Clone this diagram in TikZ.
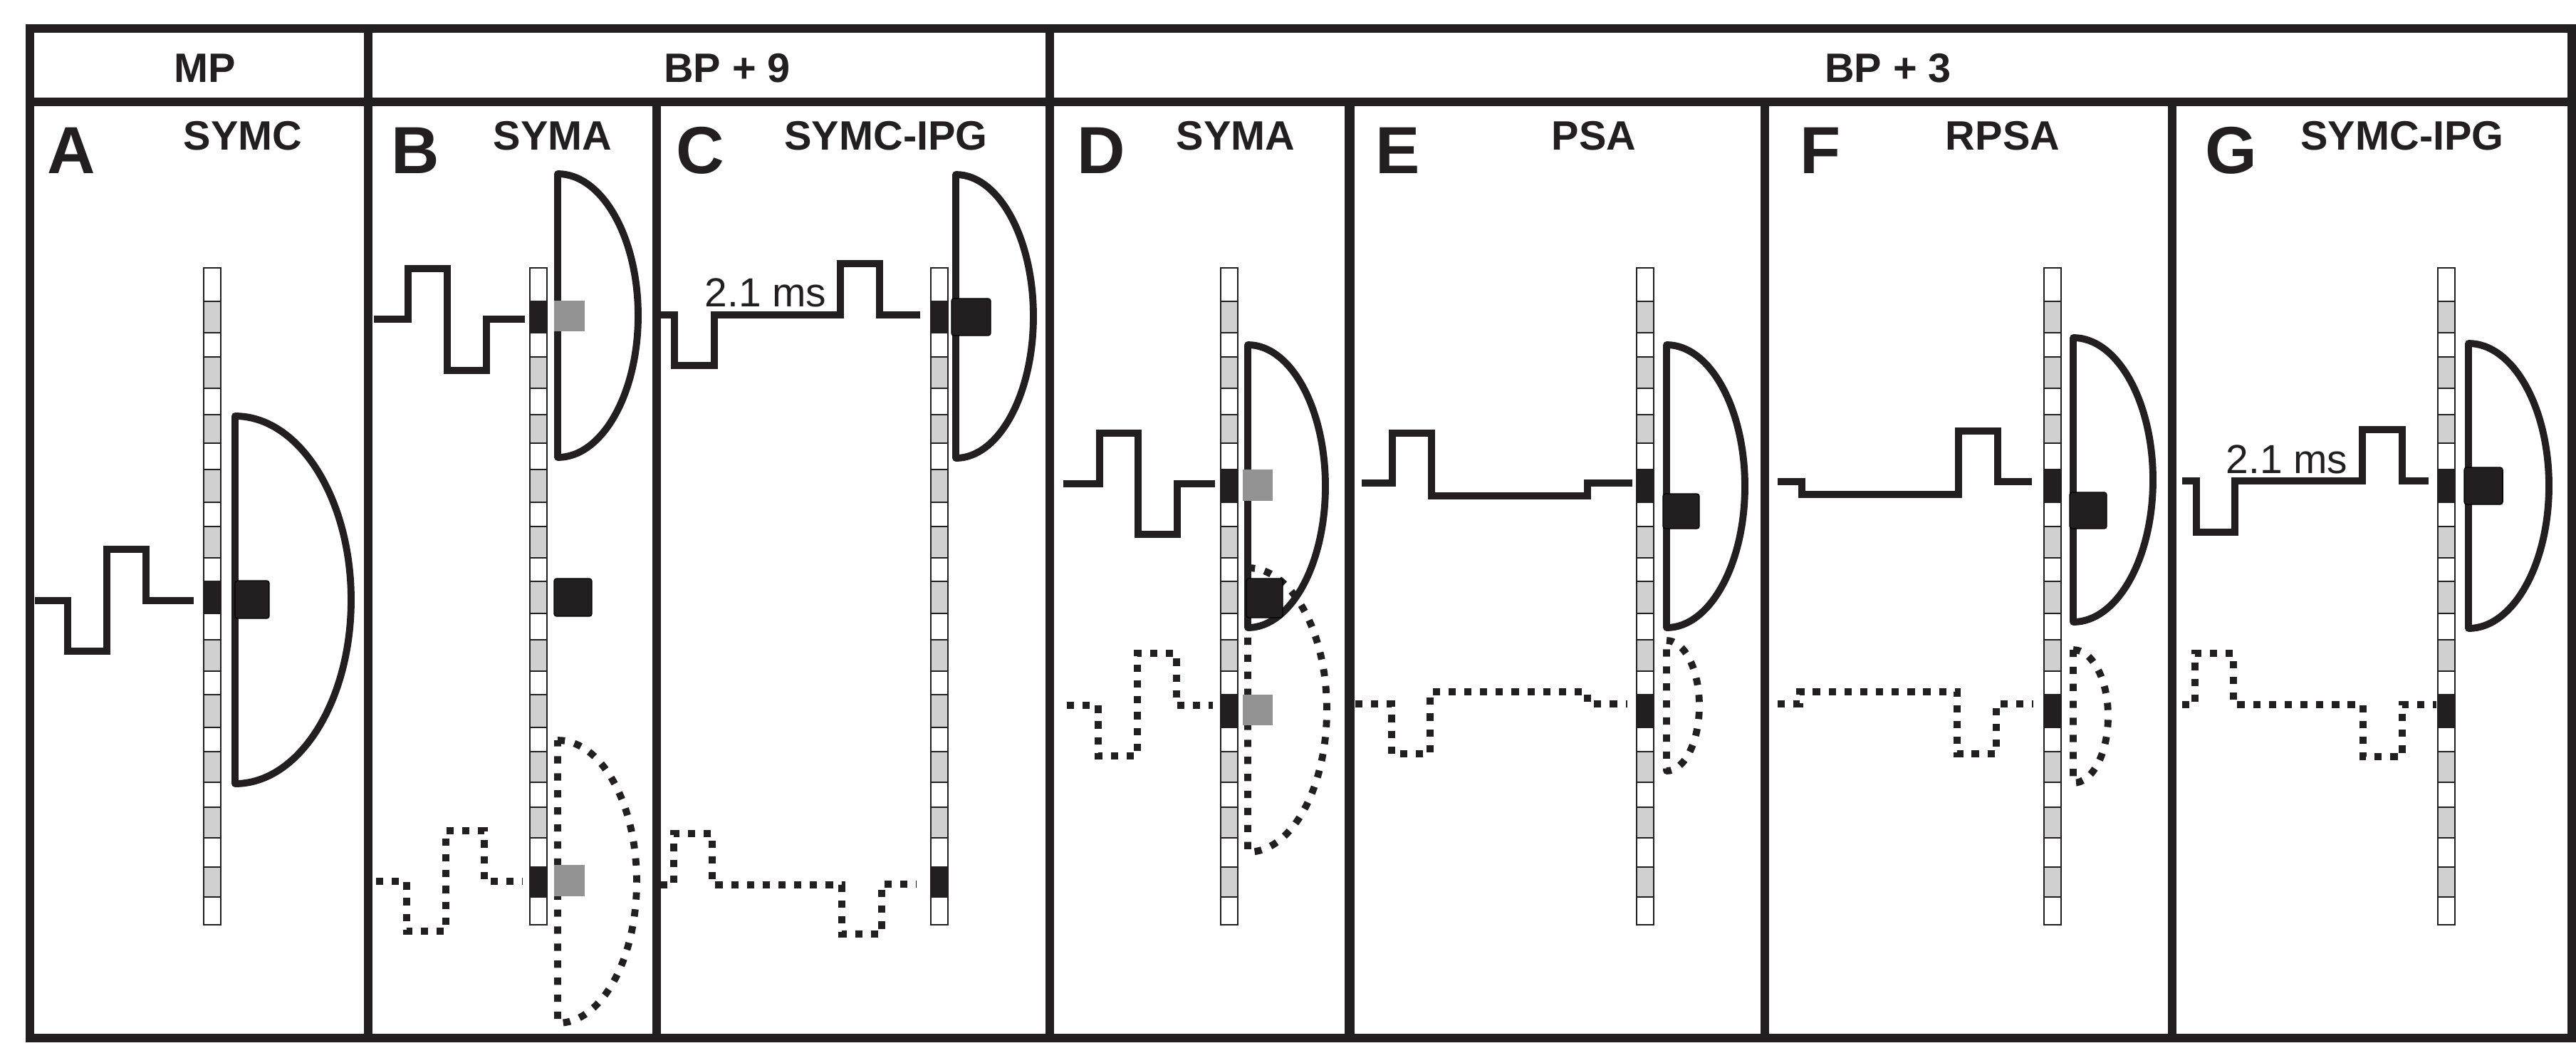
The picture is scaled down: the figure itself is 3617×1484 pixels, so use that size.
\documentclass[tikz,border=0pt]{standalone}
\usepackage{fontspec}
\setmainfont{Liberation Sans}
\usepackage{xcolor}
\definecolor{inkblack}{HTML}{231F20}
\definecolor{cellgray}{HTML}{D0D0D0}
\definecolor{spotgray}{HTML}{939393}
\tikzset{
	frameline/.style={draw=inkblack,line width=3.4pt},
	pulse/.style={draw=inkblack,line width=2.8pt},
	pulsedot/.style={pulse,dash pattern=on 2.9pt off 3.4pt},
	field/.style={draw=inkblack,line width=2.8pt,line join=round},
	fielddot/.style={field,dash pattern=on 2.9pt off 3.9pt},
	cell/.style={draw=inkblack,line width=0.8pt},
	spot/.style={fill=inkblack,rounded corners=1pt},
	graysq/.style={fill=spotgray},
	head/.style={inner sep=0pt,anchor=base,text=inkblack,font=\fontsize{16.4pt}{18pt}\selectfont\bfseries},
	letter/.style={inner sep=0pt,anchor=base,text=inkblack,font=\fontsize{26.6pt}{28pt}\selectfont\bfseries},
	width/.style={inner sep=0pt,anchor=base,text=inkblack,font=\fontsize{16.2pt}{18pt}\selectfont}
}
\begin{document}
\begin{tikzpicture}[x=0.1mm,y=-0.1mm]
	\useasboundingbox (0,0) rectangle (3617,1484);

	% electrodes: x position and the two active contacts
	\foreach \ex/\ka/\kb in {298/12/12,756/2/22,1319/2/22,1726/8/16,2310/8/16,2882/8/16,3435/8/16} {
		\foreach \ya/\yb [count=\n] in {376/423,423/467,467/501,501/545,545/582,582/622,622/659,659/705,705/739,739/783,783/816,816/861,861/898,898/942,942/975,975/1021,1021/1055,1055/1098,1098/1133,1133/1176,1176/1217,1217/1259,1259/1298} {
			\ifodd\n \def\tone{white}\else\def\tone{cellgray}\fi
			\ifnum\n=\ka \def\tone{inkblack}\fi
			\ifnum\n=\kb \def\tone{inkblack}\fi
			\draw[cell,fill=\tone] (\ex-12,\ya) rectangle (\ex+12,\yb);
		}
	}

	% table lines
	\draw[frameline] (42,40) rectangle (3611,1457);
	\draw[frameline] (42,143) -- (3611,143);
	\draw[frameline] (517,40) -- (517,1457);
	\draw[frameline] (922,143) -- (922,1457);
	\draw[frameline] (1474,40) -- (1474,1457);
	\draw[frameline,line width=4.2pt] (1895,143) -- (1895,1457);
	\draw[frameline] (2478,143) -- (2478,1457);
	\draw[frameline] (3050,143) -- (3050,1457);

	% headings
	\node[head] (mp) at (288,115) {MP};
	\node[head] (bp9) at (1021,115) {BP + 9};
	\node[head] (bp3) at (2651,115) {BP + 3};
	\node[letter] (la) at (100,243) {A};
	\node[letter] (lb) at (583,243) {B};
	\node[letter] (lc) at (983,243) {C};
	\node[letter] (ld) at (1546,243) {D};
	\node[letter] (le) at (1963,243) {E};
	\node[letter] (lf) at (2556,243) {F};
	\node[letter] (lg) at (3133,243) {G};
	\node[head] (ta) at (341,210) {SYMC};
	\node[head] (tb) at (776,210) {SYMA};
	\node[head] (tc) at (1244,210) {SYMC-IPG};
	\node[head] (td) at (1735,210) {SYMA};
	\node[head] (te) at (2238,210) {PSA};
	\node[head] (tf) at (2812,210) {RPSA};
	\node[head] (tg) at (3373,210) {SYMC-IPG};
	\node[width] (wc) at (1075,430) {2.1 ms};
	\node[width] (wg) at (3211,664) {2.1 ms};

	% panel A
	\draw[pulse] (49,843) -| (95,914) -| (150,771) -| (205,843) -- (272,843);
	\draw[field] (330,584) arc[start angle=-90,end angle=90,x radius=163,y radius=258] -- cycle;
	\draw[spot] (330,815) rectangle (378,868);

	% panel B
	\draw[pulse] (525,448) -| (573,377) -| (628,520) -| (683,448) -- (737,448);
	\draw[pulsedot] (528,1237) -| (571,1307) -| (626,1166) -| (680,1237) -- (734,1237);
	\draw[field] (783,244) arc[start angle=-90,end angle=90,x radius=113,y radius=199] -- cycle;
	\draw[fielddot] (783,1039) arc[start angle=-90,end angle=90,x radius=111,y radius=198.5] -- cycle;
	\fill[graysq] (778,422) rectangle (821,465);
	\fill[graysq] (778,1214) rectangle (821,1258);
	\draw[spot] (778,812) rectangle (831,865);

	% panel C
	\draw[pulse] (927,442) -| (947,513) -| (1003,442) -| (1180,370) -| (1235,442) -- (1292,442);
	\draw[pulsedot] (927,1242) -| (946,1170) -| (1000,1242) -| (1182,1311) -| (1238,1241) -- (1287,1241);
	\draw[field] (1342,245) arc[start angle=-90,end angle=90,x radius=109,y radius=199] -- cycle;
	\draw[spot] (1336,419) rectangle (1391,471);

	% panel D
	\draw[pulse] (1493,679) -| (1544,608) -| (1598,750) -| (1653,679) -- (1706,679);
	\draw[pulsedot] (1498,990) -| (1542,1061) -| (1597,917) -| (1652,990) -- (1703,990);
	\draw[fielddot] (1752,797) arc[start angle=-90,end angle=90,x radius=111,y radius=199.5] -- cycle;
	\draw[field] (1752,484) arc[start angle=-90,end angle=90,x radius=109,y radius=198.5] -- cycle;
	\fill[graysq] (1745,659) rectangle (1787,703);
	\fill[graysq] (1745,975) rectangle (1787,1018);
	\draw[spot] (1750,812) rectangle (1801,867);

	% panel E
	\draw[pulse] (1912,678) -| (1955,608) -| (2010,696) -| (2229,678) -- (2292,678);
	\draw[pulsedot] (1903,988) -| (1954,1058) -| (2008,971) -| (2229,988) -- (2285,988);
	\draw[field] (2340,484) arc[start angle=-90,end angle=90,x radius=110,y radius=198.5] -- cycle;
	\draw[fielddot] (2340,899) arc[start angle=-90,end angle=90,x radius=46,y radius=91.5] -- cycle;
	\draw[spot] (2335,693) rectangle (2386,742);

	% panel F
	\draw[pulse] (2496,676) -| (2530,694) -| (2750,605) -| (2805,676) -- (2853,676);
	\draw[pulsedot] (2496,988) -| (2527,971) -| (2748,1058) -| (2803,988) -- (2855,988);
	\draw[field] (2911,474) arc[start angle=-90,end angle=90,x radius=112,y radius=199.5] -- cycle;
	\draw[fielddot] (2911,912) arc[start angle=-90,end angle=90,x radius=49,y radius=93.5] -- cycle;
	\draw[spot] (2906,691) rectangle (2958,742);

	% panel G
	\draw[pulse] (3064,675) -| (3084,747) -| (3138,675) -| (3317,603) -| (3373,675) -- (3410,675);
	\draw[pulsedot] (3064,989) -| (3082,917) -| (3136,989) -| (3318,1062) -| (3373,989) -- (3421,989);
	\draw[field] (3466,482) arc[start angle=-90,end angle=90,x radius=113,y radius=200] -- cycle;
	\draw[spot] (3460,656) rectangle (3514,708);
\end{tikzpicture}
\end{document}
